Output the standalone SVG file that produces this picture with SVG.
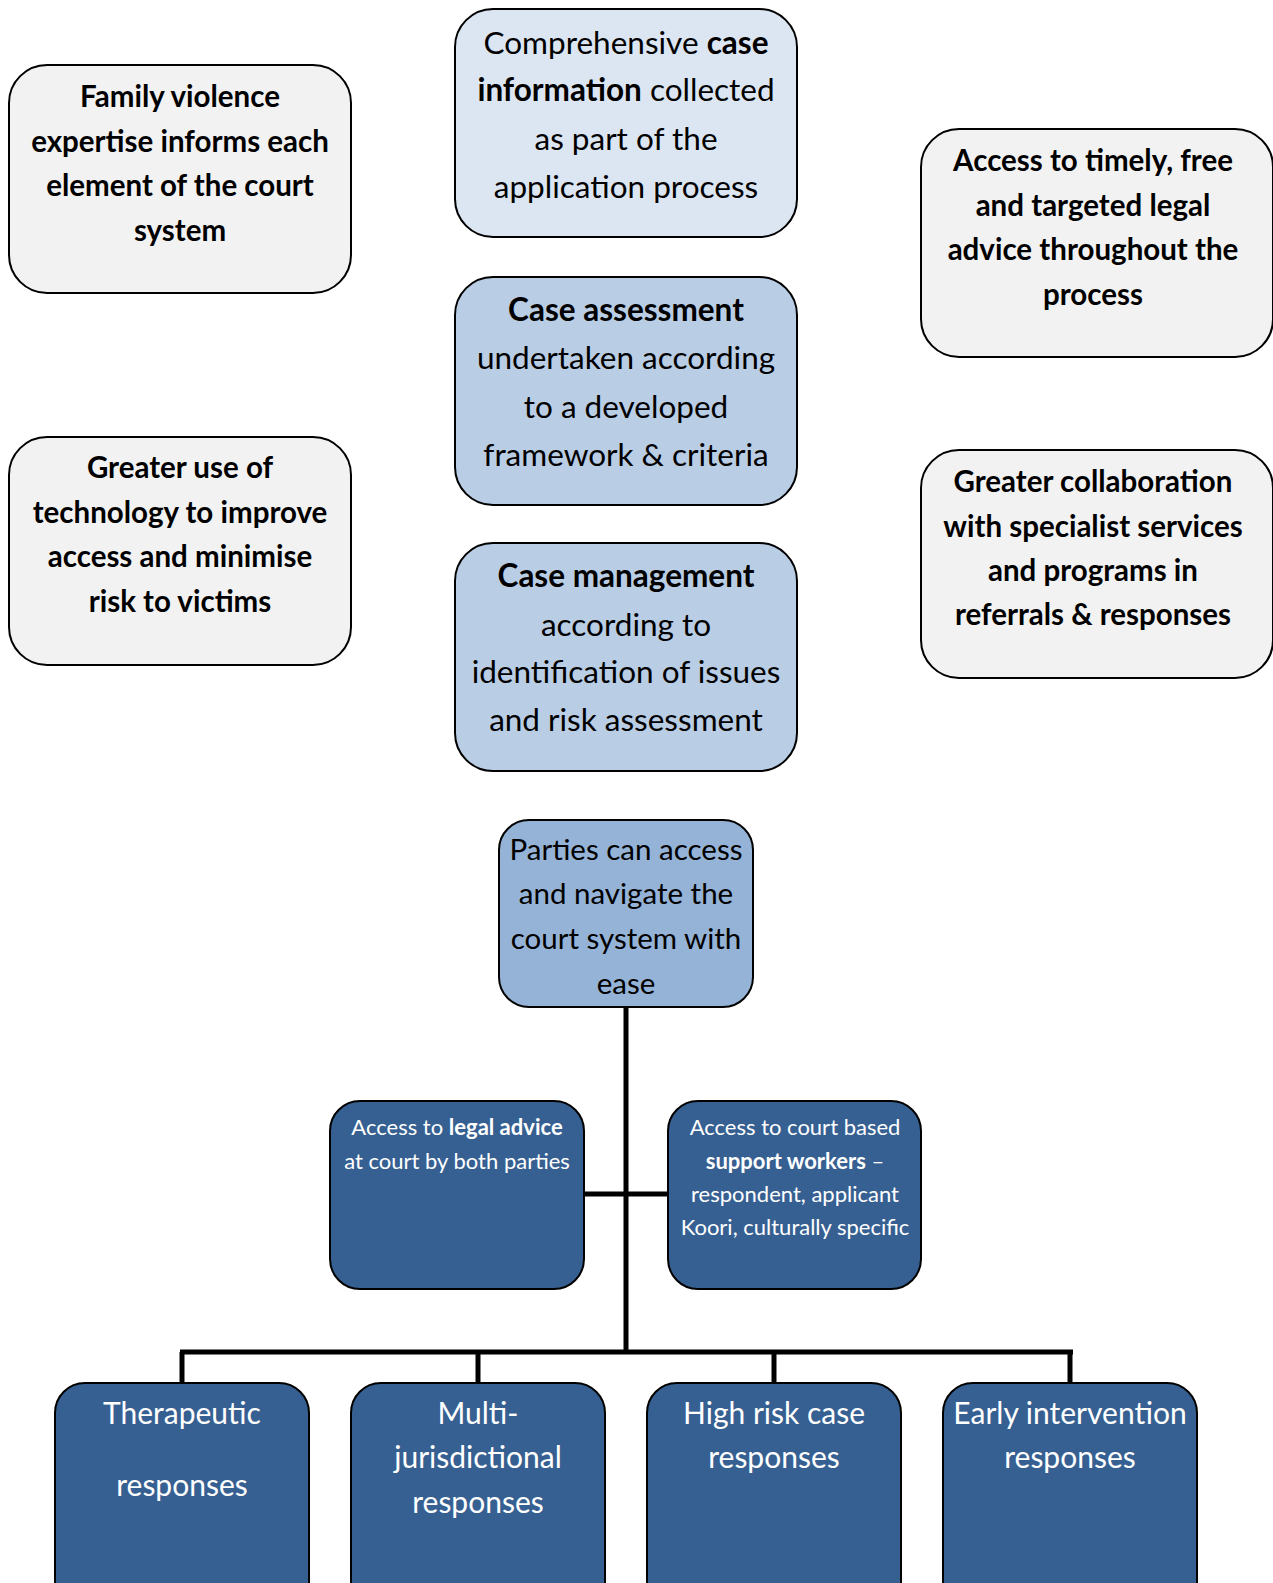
<svg xmlns="http://www.w3.org/2000/svg" width="1273" height="1583" viewBox="0 0 1273 1583">
<style>
.box{stroke:#000;stroke-width:2}
.gray{fill:#f2f2f2}
.lb1{fill:#dce6f2}
.lb2{fill:#b9cde5}
.lb3{fill:#95b3d7}
.db{fill:#376092}
text{font-family:Lato,"Open Sans","Liberation Sans",sans-serif;text-anchor:middle}
.t28b{font-size:29.5px;font-weight:bold;fill:#000}
.t30{font-size:31.5px;fill:#000}
.t28{font-size:29.5px;fill:#000}
.t21{font-size:22px;fill:#fff}
.w28{font-size:30px;fill:#fff}
.b{font-weight:bold}
.conn{stroke:#000;stroke-width:5;fill:none}
</style>
<rect width="1273" height="1583" fill="#fff"/>
<g id="connectors">
<line class="conn" x1="626" y1="1007" x2="626" y2="1354"/>
<line class="conn" x1="584" y1="1194" x2="668" y2="1194"/>
<line class="conn" x1="180" y1="1352" x2="1073" y2="1352"/>
<line class="conn" x1="182" y1="1352" x2="182" y2="1384"/>
<line class="conn" x1="478" y1="1352" x2="478" y2="1384"/>
<line class="conn" x1="774" y1="1352" x2="774" y2="1384"/>
<line class="conn" x1="1070" y1="1352" x2="1070" y2="1384"/>
</g>
<g id="family-violence">
<rect class="box gray" x="9" y="65" width="342" height="228" rx="38"/>
<text class="t28b"><tspan x="180" y="107">Family violence</tspan><tspan x="180" y="152">expertise informs each</tspan><tspan x="180" y="196">element of the court</tspan><tspan x="180" y="241">system</tspan></text>
</g>
<g id="case-information">
<rect class="box lb1" x="455" y="9" width="342" height="228" rx="38"/>
<text class="t30"><tspan x="626" y="54">Comprehensive <tspan class="b">case</tspan></tspan><tspan x="626" y="101"><tspan class="b">information</tspan> collected</tspan><tspan x="626" y="150">as part of the</tspan><tspan x="626" y="198">application process</tspan></text>
</g>
<g id="legal-advice-access">
<rect class="box gray" x="921" y="129" width="352" height="228" rx="38"/>
<text class="t28b"><tspan x="1093" y="171">Access to timely, free</tspan><tspan x="1093" y="216">and targeted legal</tspan><tspan x="1093" y="260">advice throughout the</tspan><tspan x="1093" y="305">process</tspan></text>
</g>
<g id="case-assessment">
<rect class="box lb2" x="455" y="277" width="342" height="228" rx="38"/>
<text class="t30"><tspan x="626" y="321" class="b">Case assessment</tspan><tspan x="626" y="369">undertaken according</tspan><tspan x="626" y="418">to a developed</tspan><tspan x="626" y="466">framework &amp; criteria</tspan></text>
</g>
<g id="technology">
<rect class="box gray" x="9" y="437" width="342" height="228" rx="38"/>
<text class="t28b"><tspan x="180" y="478">Greater use of</tspan><tspan x="180" y="523">technology to improve</tspan><tspan x="180" y="567">access and minimise</tspan><tspan x="180" y="612">risk to victims</tspan></text>
</g>
<g id="collaboration">
<rect class="box gray" x="921" y="450" width="352" height="228" rx="38"/>
<text class="t28b"><tspan x="1093" y="492">Greater collaboration</tspan><tspan x="1093" y="537">with specialist services</tspan><tspan x="1093" y="581">and programs in</tspan><tspan x="1093" y="625">referrals &amp; responses</tspan></text>
</g>
<g id="case-management">
<rect class="box lb2" x="455" y="543" width="342" height="228" rx="38"/>
<text class="t30"><tspan x="626" y="587" class="b">Case management</tspan><tspan x="626" y="636">according to</tspan><tspan x="626" y="683">identification of issues</tspan><tspan x="626" y="731">and risk assessment</tspan></text>
</g>
<g id="parties">
<rect class="box lb3" x="499" y="820" width="254" height="187" rx="30"/>
<text class="t28"><tspan x="626" y="860">Parties can access</tspan><tspan x="626" y="904">and navigate the</tspan><tspan x="626" y="949">court system with</tspan><tspan x="626" y="994">ease</tspan></text>
</g>
<g id="legal-advice-court">
<rect class="box db" x="330" y="1101" width="254" height="188" rx="30"/>
<text class="t21"><tspan x="457" y="1135">Access to <tspan class="b">legal advice</tspan></tspan><tspan x="457" y="1169">at court by both parties</tspan></text>
</g>
<g id="support-workers">
<rect class="box db" x="668" y="1101" width="253" height="188" rx="30"/>
<text class="t21"><tspan x="795" y="1135">Access to court based</tspan><tspan x="795" y="1169"><tspan class="b">support workers</tspan> –</tspan><tspan x="795" y="1202">respondent, applicant</tspan><tspan x="795" y="1235">Koori, culturally specific</tspan></text>
</g>
<g id="therapeutic">
<rect class="box db" x="55" y="1383" width="254" height="230" rx="30"/>
<text class="w28"><tspan x="182" y="1424">Therapeutic</tspan><tspan x="182" y="1496">responses</tspan></text>
</g>
<g id="multi-jurisdictional">
<rect class="box db" x="351" y="1383" width="254" height="230" rx="30"/>
<text class="w28"><tspan x="478" y="1424">Multi-</tspan><tspan x="478" y="1468">jurisdictional</tspan><tspan x="478" y="1513">responses</tspan></text>
</g>
<g id="high-risk">
<rect class="box db" x="647" y="1383" width="254" height="230" rx="30"/>
<text class="w28"><tspan x="774" y="1424">High risk case</tspan><tspan x="774" y="1468">responses</tspan></text>
</g>
<g id="early-intervention">
<rect class="box db" x="943" y="1383" width="254" height="230" rx="30"/>
<text class="w28"><tspan x="1070" y="1424">Early intervention</tspan><tspan x="1070" y="1468">responses</tspan></text>
</g>
</svg>
